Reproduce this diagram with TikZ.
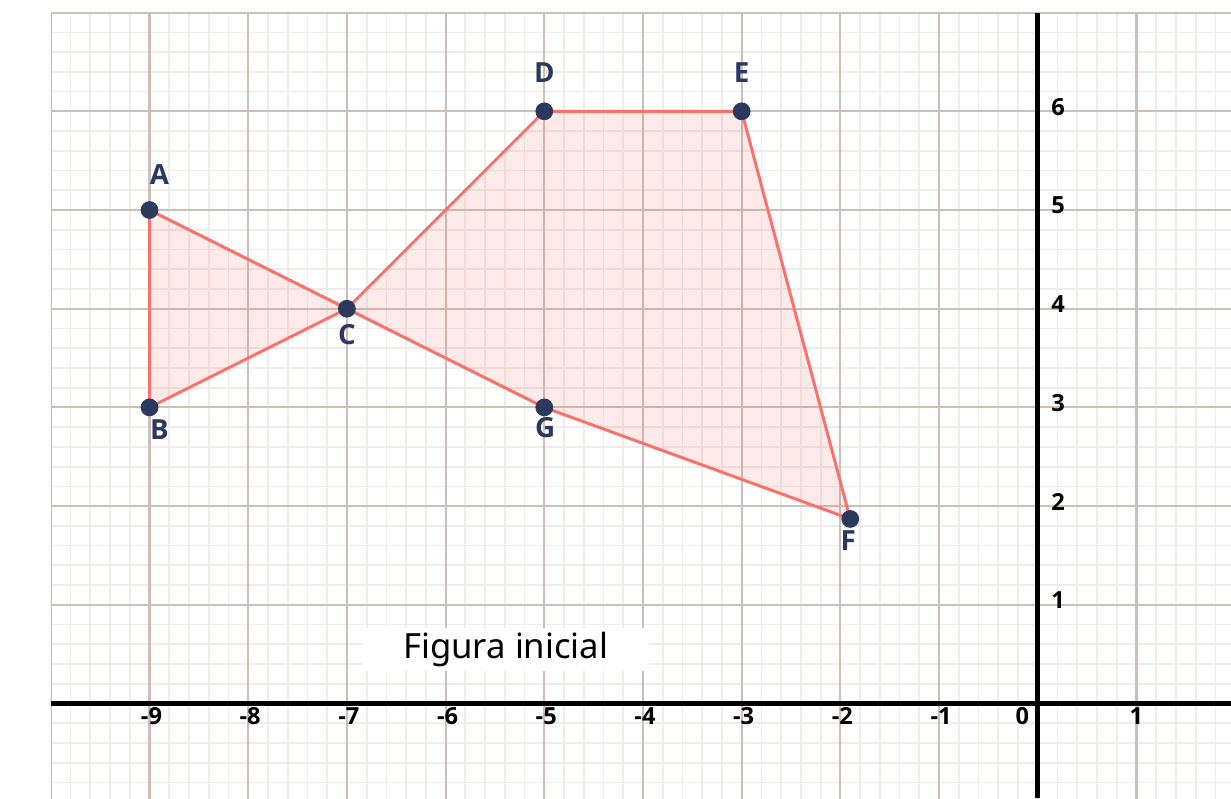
\documentclass[tikz,border=0pt]{standalone}
\usepackage{fontspec}
\setmainfont{Noto Sans}
\newfontfamily\labfont{Open Sans}
\definecolor{navy}{RGB}{44,57,95}
\definecolor{salmon}{RGB}{250,112,106}
\definecolor{gridminor}{RGB}{240,236,234}
\definecolor{gridmajor}{RGB}{202,191,185}
\begin{document}
\begin{tikzpicture}[x=1cm,y=1cm,
  minorgrid/.style={draw=gridminor,line width=0.5pt},
  majorgrid/.style={draw=gridmajor,line width=0.6pt},
  axisline/.style={draw=black,line width=1.45pt},
  edge/.style={draw=salmon,line width=0.85pt,line join=round},
  shade/.style={fill=salmon,fill opacity=0.15},
  dot/.style={fill=navy},
  ptlabel/.style={text=navy,font=\labfont\bfseries\fontsize{8}{9}\selectfont,inner sep=0pt,text depth=0pt},
  ticklabel/.style={font=\labfont\bfseries\fontsize{6.8}{8}\selectfont,inner sep=0pt,anchor=base}]
\useasboundingbox (-10.515,-0.958) rectangle (1.958,7.128);
\begin{scope}
\clip (-10,-0.958) rectangle (1.958,7);
\draw[minorgrid] (-10,-1) grid[step=0.2] (2,7);
\draw[majorgrid] (-10,-1) grid[step=1] (2,7);
\end{scope}
\node[fill=white,minimum width=2.9cm,minimum height=0.43cm,inner sep=0pt,
  font=\fontsize{10}{12}\selectfont] (title) at (-5.39,0.545) {Figura inicial};
\draw[axisline] (-10,0) -- (1.958,0);
\draw[axisline] (0,-0.958) -- (0,7);
\foreach \x in {-9,...,-1}
{
  \node[ticklabel] (tx\x) at (\x+0.02,-0.215) {\x};
}
\node[ticklabel] (t0) at (-0.155,-0.215) {0};
\node[ticklabel] (tx1) at (1,-0.215) {1};
\foreach \y in {1,...,6}
{
  \node[ticklabel,anchor=base west] (ty\y) at (0.13,\y-0.04) {\y};
}
\coordinate (A) at (-9,5);
\coordinate (B) at (-9,3);
\coordinate (C) at (-7,4);
\coordinate (D) at (-5,6);
\coordinate (E) at (-3,6);
\coordinate (F) at (-1.9,1.87);
\coordinate (G) at (-5,3);
\fill[shade] (A) -- (B) -- (C) -- cycle;
\fill[shade] (C) -- (D) -- (E) -- (F) -- (G) -- cycle;
\draw[edge] (A) -- (B) -- (C) -- (D) -- (E) -- (F) -- (G) -- (C) -- cycle;
\foreach \p in {A,B,C,D,E,F,G}
{
  \fill[dot] (\p) circle (0.09);
}
\node[ptlabel] (labA) at (-8.9,5.36) {A};
\node[ptlabel] (labB) at (-8.9,2.78) {B};
\node[ptlabel] (labC) at (-7,3.74) {C};
\node[ptlabel] (labD) at (-5,6.39) {D};
\node[ptlabel] (labE) at (-3,6.39) {E};
\node[ptlabel] (labF) at (-1.92,1.65) {F};
\node[ptlabel] (labG) at (-4.99,2.8) {G};
\end{tikzpicture}
\end{document}
